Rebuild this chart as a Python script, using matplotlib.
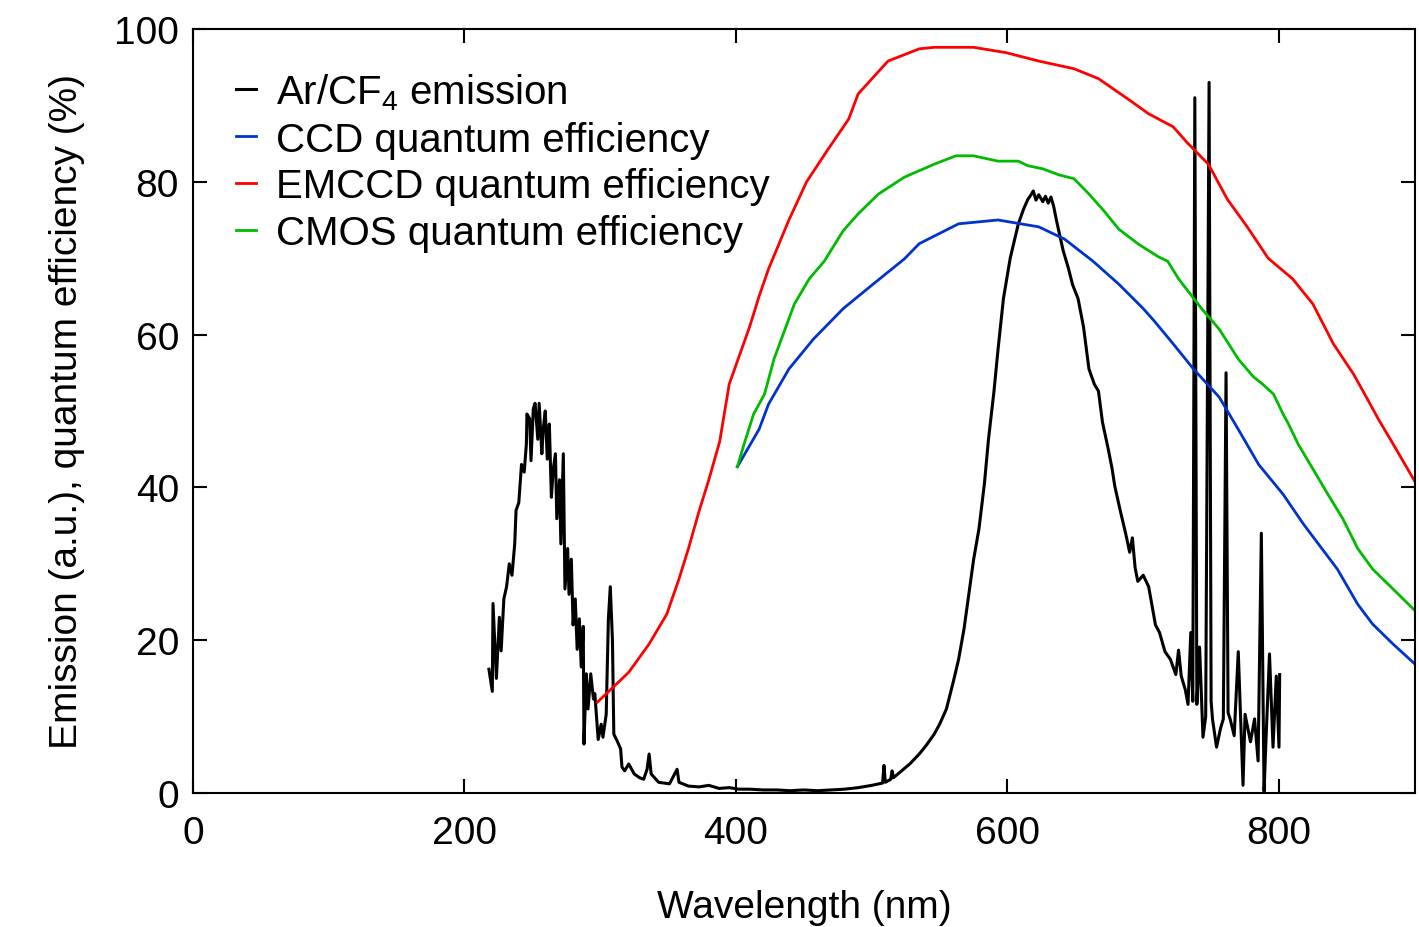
import numpy as np
import matplotlib
matplotlib.use('Agg')
import matplotlib.pyplot as plt

plt.rcParams['font.family'] = ['Liberation Sans', 'DejaVu Sans']
plt.rcParams['mathtext.fontset'] = 'custom'
plt.rcParams['mathtext.rm'] = 'Liberation Sans'
plt.rcParams['mathtext.it'] = 'Liberation Sans'

# ---- data ----
emccd_wl = [298, 321, 336, 349, 358, 365, 373, 380, 388, 395, 402, 410, 417, 424, 439, 452,
            468, 483, 490, 512, 535, 546, 575, 599, 623, 649, 667, 689, 704, 722, 733, 748,
            762, 777, 792, 810, 825, 840, 855, 865, 873, 884, 900]
emccd_qe = [11.9, 15.8, 19.5, 23.4, 28, 32, 37, 41, 46, 53.5, 57, 61, 65, 68.6, 75, 80,
            84.3, 88.2, 91.5, 95.8, 97.4, 97.6, 97.6, 96.9, 95.8, 94.8, 93.5, 90.8, 88.9, 87.2, 85, 82.3,
            77.7, 74, 70, 67.3, 64, 58.8, 54.8, 51.6, 49, 45.7, 40.8]

cmos_wl = [401, 406, 413, 421, 428, 443, 454, 465, 479, 490, 505, 524, 546, 562, 575, 593,
           608, 615, 626, 638, 649, 660, 671, 682, 696, 711, 718, 726, 743, 756, 770, 781,
           788, 796, 803, 807, 814, 825, 836, 847, 858, 869, 884, 900]
cmos_qe = [42.7, 45.7, 49.6, 52.2, 56.8, 64, 67.3, 69.6, 73.6, 75.8, 78.4, 80.6, 82.3, 83.4, 83.4, 82.7,
           82.7, 82.1, 81.7, 80.9, 80.4, 78.4, 76.2, 73.8, 71.9, 70.2, 69.6, 67.3, 63.4, 60.7, 56.8, 54.5,
           53.5, 52.2, 49.6, 48.3, 45.7, 42.4, 39.1, 35.9, 32, 29.3, 26.7, 23.9]

ccd_wl = [401, 417, 424, 439, 457, 479, 501, 524, 535, 564, 593, 623, 642, 663, 682, 700,
          708, 722, 737, 756, 770, 785, 803, 818, 843, 858, 869, 884, 900]
ccd_qe = [42.7, 47.6, 50.9, 55.5, 59.4, 63.4, 66.6, 69.9, 71.9, 74.5, 75, 74.1, 72.5, 69.6, 66.6, 63.4,
          61.8, 58.8, 55.5, 51.8, 47.6, 43, 39.1, 35.2, 29.3, 24.7, 22.1, 19.5, 16.9]

em_wl = [218, 220.5, 221, 223.5, 225.7, 227, 229, 231, 233, 235, 237, 238, 240, 242, 244, 245.6,
         246, 248, 249, 250.7, 252, 254, 255, 257, 258, 259.5, 261, 262.5, 264, 265.4, 267, 268,
         270, 271, 272.8, 274, 276, 277, 278.7, 280, 281.6, 283, 284.6, 286, 287.5, 288, 289.7, 291,
         293, 295, 296, 298.5, 300.7, 302, 304.4, 306, 307.4, 309, 310, 312.5, 315, 316, 318, 321,
         325, 329, 332, 334.5, 336, 337.5, 343, 351, 356.6, 358, 365, 373, 380, 387.5, 395, 402,
         410, 420, 430, 440, 450, 460, 470, 480, 490, 500, 508, 509, 510, 514, 515, 516, 520,
         528, 535, 540, 546, 550, 555, 560, 564, 568, 571, 575, 579, 583, 586, 590, 593, 597,
         602, 608, 612, 615, 617,
         619, 621, 623, 626, 628, 630, 632, 634, 636, 637.5, 641, 645, 648, 652, 656, 660, 664,
         667, 670, 674, 677, 679, 683, 687, 690, 692, 694, 696, 700, 704, 707, 709, 712, 716,
         720, 724, 726, 728, 731, 733, 735, 736.5, 738, 739.5, 741.5, 744, 746, 748.5, 750, 751,
         754, 757, 759, 761, 762.5, 764, 767, 770, 773.5, 775, 779, 782, 784.6, 787, 789, 790.5,
         793, 795.6, 798, 800, 800.5]
em_val = [16.2, 13.3, 24.8, 15, 23, 18.6, 25.4, 27, 30, 28.5, 32.6, 37, 38, 43, 42, 45.7,
          49.6, 49, 43.5, 50.3, 51, 46.3, 51, 44.4, 47.6, 50, 43.7, 48.3, 38.7, 42.4, 44.4, 35.9,
          41, 32.6, 44.4, 26.7, 32, 26, 30.6, 22, 25.4, 18.8, 22.8, 16.5, 21.8, 6.4, 15.6, 11,
          15.6, 12.3, 13, 7, 9, 7.3, 10.3, 22.8, 27, 20, 7.7, 6.8, 5.8, 3.4, 2.9, 3.8,
          2.5, 2, 1.8, 3.1, 5.1, 2.5, 1.4, 1.2, 3.1, 1.4, 0.9, 0.8, 1.0, 0.6, 0.7, 0.5,
          0.5, 0.4, 0.4, 0.3, 0.4, 0.3, 0.4, 0.5, 0.7, 1.0, 1.3, 3.6, 1.4, 1.8, 2.9, 2.0, 2.6,
          3.8, 5.1, 6.2, 7.7, 9.0, 11.0, 14.5, 17.5, 21.5, 25.4, 30.5, 34.6, 40.5, 46.3, 52.5, 58, 64.7,
          70, 74.5, 76.5, 77.7, 78.2,
          78.8, 77.6, 78.3, 77.4, 78.1, 77.2, 78, 76.8, 75, 73.8, 71, 68.6, 66.5, 64.7, 61, 55.5, 53.5,
          52.6, 48.5, 45.2, 42.5, 40.2, 37, 34, 31.5, 33.4, 29.5, 27.7, 28.5, 27, 24, 22, 21, 18.5,
          17.5, 15.5, 18.7, 15.3, 13.5, 11.6, 21, 12, 91, 11.6, 19.1, 7.3, 10, 93, 12, 9.7,
          6, 8.5, 9.7, 55, 10.5, 9.7, 7.5, 18.5, 1, 10.3, 6.7, 9.7, 4.2, 34, 0.2, 7.3,
          18.2, 6, 15.3, 6, 15.5]

fig = plt.figure(figsize=(14.19, 9.28), dpi=100)
ax = fig.add_axes([0.136, 0.1444, 0.861, 0.8233])

ax.plot(em_wl, em_val, color='black', lw=2.2, label='Ar/CF$_4$ emission')
ax.plot(ccd_wl, ccd_qe, color='#0033cc', lw=2, label='CCD quantum efficiency')
ax.plot(emccd_wl, emccd_qe, color='#ff0000', lw=2, label='EMCCD quantum efficiency')
ax.plot(cmos_wl, cmos_qe, color='#00bb00', lw=2, label='CMOS quantum efficiency')

ax.set_xlim(0, 900)
ax.set_ylim(0, 100)
ax.set_xticks([0, 200, 400, 600, 800])
ax.set_yticks([0, 20, 40, 60, 80, 100])
ax.tick_params(direction='in', length=10, width=1.5, labelsize=28, top=True, right=True)
ax.tick_params(axis='x', pad=16)
ax.tick_params(axis='y', pad=10)
for s in ax.spines.values():
    s.set_linewidth(1.5)

ax.set_xlabel('Wavelength (nm)', fontsize=28, labelpad=27)
ax.set_ylabel('Emission (a.u.), quantum efficiency (%)', fontsize=28, labelpad=21)

leg = ax.legend(loc='upper left', bbox_to_anchor=(0.022, 0.966), frameon=False, fontsize=29,
                handlelength=0.5, handletextpad=0.5, labelspacing=0.22, borderaxespad=0)

fig.savefig('out.png', dpi=100)
